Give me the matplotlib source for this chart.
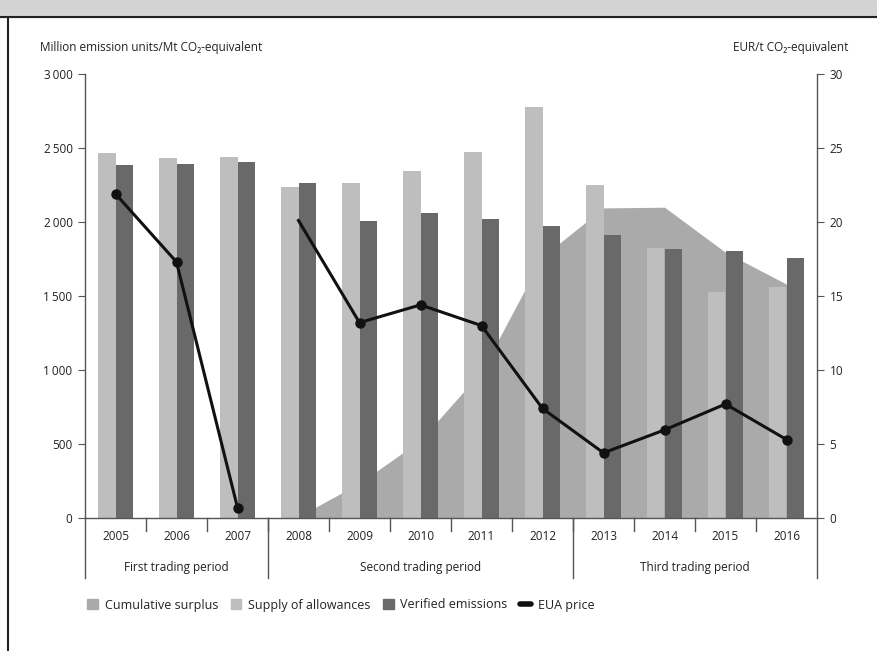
import matplotlib.pyplot as plt
import matplotlib.lines as mlines
import matplotlib.patches as mpatches
import numpy as np

plt.rcParams['font.family'] = ['Open Sans', 'DejaVu Sans']

years = ["2005", "2006", "2007", "2008", "2009", "2010", "2011", "2012",
         "2013", "2014", "2015", "2016"]
supply = [2468, 2430, 2437, 2239, 2261, 2345, 2475, 2775, 2250, 1826, 1525, 1563]
verified = [2383, 2390, 2408, 2261, 2009, 2059, 2018, 1973, 1912, 1820, 1806, 1757]
surplus_years = ["2008", "2009", "2010", "2011", "2012", "2013", "2014", "2015", "2016"]
surplus = [10, 235, 525, 990, 1765, 2095, 2100, 1795, 1580]
price_p1 = [21.9, 17.3, 0.7]
price_p2 = [20.1, 13.2, 14.4, 13.0, 7.4, 4.4, 5.95, 7.7, 5.3]
periods = ["First trading period", "Second trading period", "Third trading period"]
period_len = [3, 5, 4]

c_surplus = "#aaaaaa"
c_supply = "#bebebe"
c_verified = "#696969"
c_line = "#111111"
c_axis = "#555555"
c_text = "#222222"

fig = plt.figure(figsize=(8.77, 6.51), dpi=100)
ax = fig.add_axes([85 / 877, 1 - 518 / 651, 732 / 877, 444 / 651])

x = np.arange(len(years))
xs = np.array([years.index(y) for y in surplus_years])
ax.fill_between(xs, surplus, 0, color=c_surplus, lw=0, zorder=1)

w = 0.295
ax.bar(x - w / 2, supply, w, color=c_supply, lw=0, zorder=2)
ax.bar(x + w / 2, verified, w, color=c_verified, lw=0, zorder=2)

ax.set_xlim(-0.5, len(years) - 0.5)
ax.set_ylim(0, 3000)
ax.set_yticks(range(0, 3001, 500))
ax.set_yticklabels([f"{v:,}".replace(",", "\u2009") if v >= 1000 else str(v)
                    for v in range(0, 3001, 500)])
ax.set_xticks([])
for s in ["top", "right"]:
    ax.spines[s].set_visible(False)
for s in ["left", "bottom"]:
    ax.spines[s].set_color(c_axis)
    ax.spines[s].set_linewidth(1.0)
ax.tick_params(axis="y", direction="out", length=5, color=c_axis, labelsize=8.5,
               labelcolor=c_text, pad=4)

ax2 = ax.twinx()
ax2.set_ylim(0, 30)
ax2.set_yticks(range(0, 31, 5))
for s in ["top", "left", "bottom"]:
    ax2.spines[s].set_visible(False)
ax2.spines["right"].set_color(c_axis)
ax2.spines["right"].set_linewidth(1.0)
ax2.tick_params(axis="y", direction="out", length=5, color=c_axis, labelsize=8.5,
                labelcolor=c_text, pad=4)

ax2.plot(x[:3], price_p1, color=c_line, lw=2.2, marker="o", ms=6.5, zorder=5)
ax2.plot(x[3:], price_p2, color=c_line, lw=2.2, marker="o", ms=6.5,
         markevery=list(range(1, len(price_p2))), zorder=5)

# category labels and separators
trans = ax.get_xaxis_transform()
for i, yr in enumerate(years):
    ax.text(i, -0.027, yr, transform=trans, ha="center", va="top",
            fontsize=8.5, color=c_text)
for i in range(len(years) - 1):
    ax.plot([i + 0.5, i + 0.5], [0, -0.03], transform=trans, color=c_axis,
            lw=1.0, clip_on=False)
bounds = [-0.5]
for n in period_len:
    bounds.append(bounds[-1] + n)
for b in bounds:
    ax.plot([b, b], [0, -0.135], transform=trans, color=c_axis, lw=1.0,
            clip_on=False)
for name, a, b in zip(periods, bounds[:-1], bounds[1:]):
    ax.text((a + b) / 2, -0.112, name, transform=trans, ha="center",
            va="center", fontsize=8.5, color=c_text)

fig.text(40 / 877, 1 - 48 / 651, "Million emission units/Mt CO\u2082-equivalent",
         ha="left", va="center", fontsize=8.5, color=c_text)
fig.text(848 / 877, 1 - 48 / 651, "EUR/t CO\u2082-equivalent",
         ha="right", va="center", fontsize=8.5, color=c_text)

handles = [mpatches.Patch(color=c_surplus, label="Cumulative surplus"),
           mpatches.Patch(color=c_supply, label="Supply of allowances"),
           mpatches.Patch(color=c_verified, label="Verified emissions"),
           mlines.Line2D([], [], color=c_line, lw=4, solid_capstyle="round",
                         label="EUA price")]
fig.legend(handles=handles, loc="center left", bbox_to_anchor=(76 / 877, 1 - 605 / 651),
           ncol=4, frameon=False, fontsize=9, handlelength=0.85, handleheight=0.85,
           handletextpad=0.55, columnspacing=1.0, labelcolor=c_text)

# frame decorations: header band and left border
fig.patches.append(mpatches.Rectangle((0, 1 - 17 / 651), 1, 17 / 651,
                                      transform=fig.transFigure, color="#d3d3d3",
                                      zorder=0))
fig.lines.append(mlines.Line2D([0, 1], [1 - 17 / 651, 1 - 17 / 651],
                               transform=fig.transFigure, color="#222222", lw=1.5))
fig.lines.append(mlines.Line2D([8 / 877, 8 / 877], [0, 1 - 17 / 651],
                               transform=fig.transFigure, color="#222222", lw=1.5))

fig.savefig("out.png", dpi=100)
